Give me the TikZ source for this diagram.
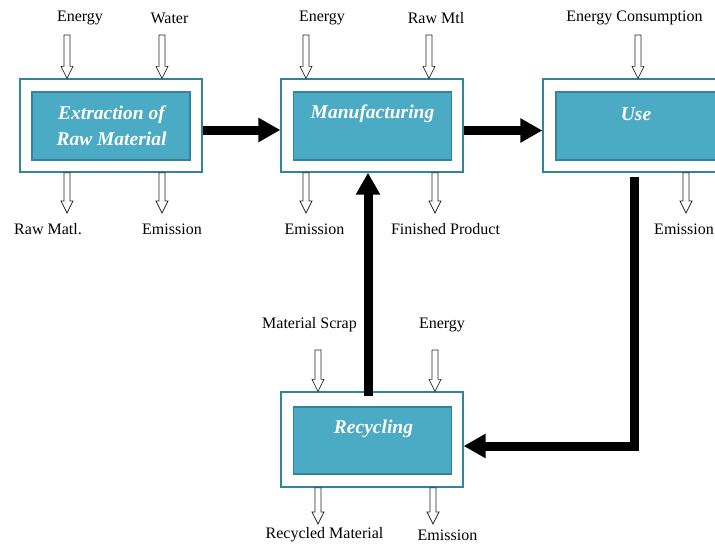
\documentclass[tikz,border=0pt]{standalone}
\usepackage{fontspec}
\setmainfont{Liberation Serif}
\usetikzlibrary{positioning, arrows.meta, calc}
\definecolor{stageteal}{RGB}{75,170,196}
\definecolor{stageedge}{RGB}{49,132,155}

\begin{document}
\begin{tikzpicture}[x=1pt, y=-1pt,
        outerbox/.style={draw=stageedge, line width=1.3pt, fill=white, minimum width=182pt, minimum height=93pt, inner sep=0pt},
        innerbox/.style={draw=stageedge, line width=1.8pt, fill=stageteal, minimum width=158pt, minimum height=68pt, inner sep=0pt},
        stagelbl/.style={font=\fontsize{19.5}{26}\selectfont\bfseries\itshape, text=white, align=center},
        flowlbl/.style={font=\fontsize{16}{19}\selectfont, inner sep=1pt},
        flow/.style={line width=9pt, -{Triangle[length=22pt, width=23pt]}},
        hollow/.style={draw=black!85, line width=0.7pt, fill=white,
          to path={($(\tikztostart)+(-3pt,0pt)$) -- ($(\tikztostart)+(3pt,0pt)$)
            -- ($(\tikztotarget)+(3pt,12pt)$) -- ($(\tikztotarget)+(6pt,12pt)$) -- (\tikztotarget)
            -- ($(\tikztotarget)+(-6pt,12pt)$) -- ($(\tikztotarget)+(-3pt,12pt)$) -- cycle}}]
        \useasboundingbox (0,0) rectangle (715,544);
        % stages
        \node[outerbox] (ext) at (111,125.5) {};
        \node[innerbox] (extin) at (111,126) {};
        \node[stagelbl] (extt) at (111.5,126) {Extraction of\\Raw Material};
        \node[outerbox] (man) at (372,125.5) {};
        \node[innerbox] (manin) at (372.5,126) {};
        \node[stagelbl] (mant) at (372.5,114) {Manufacturing};
        \node[outerbox, minimum width=190pt] (use) at (638,125.5) {};
        \node[innerbox, minimum width=164pt] (usein) at (638,126) {};
        \node[stagelbl] (uset) at (636,114) {Use};
        \node[outerbox, minimum height=95pt] (rec) at (372,439.5) {};
        \node[innerbox, minimum height=67pt] (recin) at (372.5,440.5) {};
        \node[stagelbl] (rect) at (373.5,429) {Recycling};
        % main flow
        \coordinate (upx) at (368,300);
        \draw[flow] ([yshift=-4.5pt]ext.east) -- ([yshift=-4.5pt]man.west);
        \draw[flow] ([yshift=-5pt]man.east) -- ([yshift=-5pt]use.west);
        \draw[flow] ([xshift=-4pt,yshift=-4pt]use.south) |- ([yshift=-6.5pt]rec.east);
        \draw[flow] ([yshift=-5pt]upx |- rec.north) -- (upx |- man.south);
        % inputs and outputs
        \node[flowlbl] (extin1) at (80,18) {Energy};
        \node[flowlbl] (extin2) at (169.5,18) {Water};
        \node[flowlbl] (extout1) at (48,229) {Raw Matl.};
        \node[flowlbl] (extout2) at (172,229) {Emission};
        \coordinate (ea1) at (67,35);  \draw[hollow] (ea1) to (ea1 |- ext.north);
        \coordinate (ea2) at (162,35); \draw[hollow] (ea2) to (ea2 |- ext.north);
        \coordinate (eb1) at (67,213); \draw[hollow] (eb1 |- ext.south) to (eb1);
        \coordinate (eb2) at (162,213); \draw[hollow] (eb2 |- ext.south) to (eb2);
        \node[flowlbl] (manin1) at (322,18) {Energy};
        \node[flowlbl] (manin2) at (436,18) {Raw Mtl};
        \node[flowlbl] (manout1) at (314.5,229) {Emission};
        \node[flowlbl] (manout2) at (445.5,229) {Finished Product};
        \coordinate (ma1) at (306,35);  \draw[hollow] (ma1) to (ma1 |- man.north);
        \coordinate (ma2) at (429,35);  \draw[hollow] (ma2) to (ma2 |- man.north);
        \coordinate (mb1) at (306,213); \draw[hollow] (mb1 |- man.south) to (mb1);
        \coordinate (mb2) at (435,213); \draw[hollow] (mb2 |- man.south) to (mb2);
        \node[flowlbl] (usein1) at (634.5,18) {Energy Consumption};
        \node[flowlbl] (useout1) at (684,229) {Emission};
        \coordinate (ua1) at (638,35);  \draw[hollow] (ua1) to (ua1 |- use.north);
        \coordinate (ub1) at (686,213); \draw[hollow] (ub1 |- use.south) to (ub1);
        \node[flowlbl] (recin1) at (309.5,325) {Material Scrap};
        \node[flowlbl] (recin2) at (442,325) {Energy};
        \node[flowlbl] (recout1) at (324.5,535) {Recycled Material};
        \node[flowlbl] (recout2) at (447.5,535) {Emission};
        \coordinate (ra1) at (318,350); \draw[hollow] (ra1) to (ra1 |- rec.north);
        \coordinate (ra2) at (435,350); \draw[hollow] (ra2) to (ra2 |- rec.north);
        \coordinate (rb1) at (318,524); \draw[hollow] (rb1 |- rec.south) to (rb1);
        \coordinate (rb2) at (433,524); \draw[hollow] (rb2 |- rec.south) to (rb2);
      \end{tikzpicture}
\end{document}
